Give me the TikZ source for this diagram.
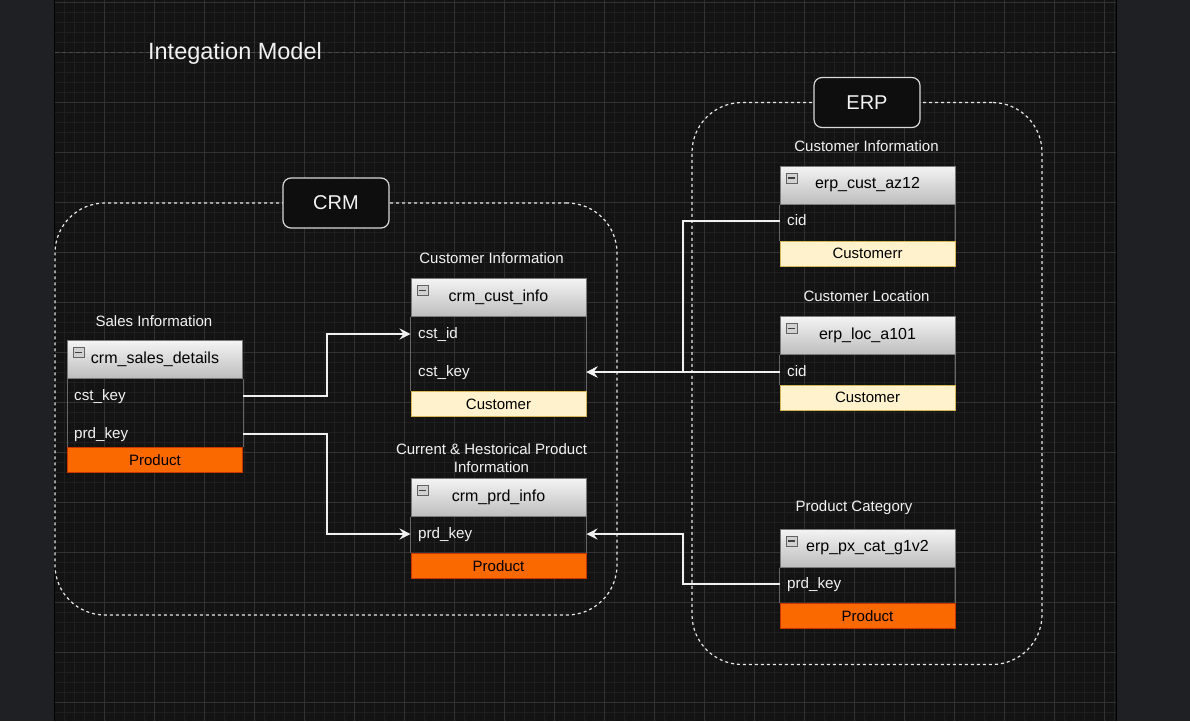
\documentclass[tikz,border=0pt]{standalone}
\usepackage{fontspec}
\setmainfont{Liberation Sans}
\usetikzlibrary{arrows.meta}

\definecolor{panel}{HTML}{1F2023}
\definecolor{canvas}{HTML}{131313}
\definecolor{gridminor}{HTML}{1F1F1F}
\definecolor{gridmajor}{HTML}{323232}
\definecolor{divider}{HTML}{4A4A4A}
\definecolor{groupline}{HTML}{E8E8E8}
\definecolor{labelfill}{HTML}{0E0E0E}
\definecolor{labelline}{HTML}{D8D8D8}
\definecolor{headtop}{HTML}{F4F4F4}
\definecolor{headbot}{HTML}{BDBDBD}
\definecolor{headline}{HTML}{7A7A7A}
\definecolor{bodyline}{HTML}{666666}
\definecolor{prodfill}{HTML}{FA6800}
\definecolor{prodline}{HTML}{C73500}
\definecolor{custfill}{HTML}{FFF2CC}
\definecolor{custline}{HTML}{D6B656}
\definecolor{ink}{HTML}{F2F2F2}

\newcommand\fsz[2]{\fontsize{#1}{#2}\selectfont}

% header of an entity table, with its collapse icon
\newcommand\tablehead[4]{%
  \node[tblhead, anchor=north west] (#1) at (#2,#3) {#4};
  \node[minusbox, anchor=north west] (#1-icon) at ([xshift=6pt,yshift=-7pt]#1.north west) {};
}
% side borders of a table body, between header and bottom band
\newcommand\tablebody[1]{%
  \draw[tblbody] (#1.south west) -- (#1-band.north west)
                 (#1.south east) -- (#1-band.north east);
}

\begin{document}
\begin{tikzpicture}[x=1pt,y=-1pt,
  tblhead/.style={draw=headline, line width=1pt, top color=headtop, bottom color=headbot,
    minimum width=175pt, minimum height=38pt, inner sep=0pt, text=black, font=\fsz{16}{19}},
  minusbox/.style={draw=headline!80!black, fill=headbot!70!white, line width=0.8pt,
    minimum width=11pt, minimum height=10pt, inner sep=0pt,
    path picture={\draw[line width=1.3pt, black!75]
      ([xshift=2pt]path picture bounding box.west) -- ([xshift=-2pt]path picture bounding box.east);}},
  tblbody/.style={draw=bodyline, line width=1pt},
  rowtext/.style={anchor=west, inner sep=0pt, text=ink, font=\fsz{15.2}{18},
    text height=11pt, text depth=3pt},
  prodband/.style={anchor=north west, draw=prodline, fill=prodfill, line width=1pt,
    minimum width=175pt, minimum height=25pt, inner sep=0pt, text=black, font=\fsz{15}{18}},
  custband/.style={anchor=north west, draw=custline, fill=custfill, line width=1pt,
    minimum width=175pt, minimum height=25pt, inner sep=0pt, text=black, font=\fsz{15}{18}},
  caption/.style={inner sep=0pt, text=ink, font=\fsz{15}{18}, align=center},
  groupbox/.style={draw=groupline, line width=1.2pt, dash pattern=on 3pt off 3pt,
    rounded corners=50pt, inner sep=0pt},
  grouplabel/.style={draw=labelline, fill=labelfill, line width=1.2pt, rounded corners=8pt,
    minimum width=106pt, minimum height=50pt, inner sep=0pt, text=ink, font=\fsz{20}{22}},
  conn/.style={draw=white!94!black, line width=1.3pt,
    -{Stealth[length=11pt,width=11pt,inset=4pt]}},
]
\useasboundingbox (0,0) rectangle (1190,721);

% side panels and canvas
\fill[panel] (0,0) rectangle (1190,721);
\fill[canvas] (54.5,0) rectangle (1116.5,721);

% canvas grid
\begin{scope}
  \clip (54.5,0) rectangle (1116.5,721);
  \foreach \gx in {64,74,...,1114} \draw[gridminor, line width=1pt] (\gx,0) -- (\gx,721);
  \foreach \gy in {2,12,...,712} \draw[gridminor, line width=1pt] (54.5,\gy) -- (1116.5,\gy);
  \foreach \gx in {104,154,...,1104} \draw[gridmajor, line width=1pt] (\gx,0) -- (\gx,721);
  \foreach \gy in {2,52,...,702} \draw[gridmajor, line width=1pt] (54.5,\gy) -- (1116.5,\gy);
\end{scope}
\draw[black, line width=1pt] (54.5,0) -- (54.5,721) (1116.5,0) -- (1116.5,721);

% page divider and title
\draw[divider, line width=1.3pt, dash pattern=on 4pt off 3pt] (55,52.5) -- (1116,52.5);
\node[inner sep=0pt, text=ink, font=\fsz{23.5}{28}] (title) at (235,53) {Integation Model};

% groups
\node[groupbox, minimum width=562pt, minimum height=412pt] (crm) at (336,409) {};
\node[groupbox, minimum width=350pt, minimum height=562pt] (erp) at (867,383.5) {};
\node[grouplabel] (crm-label) at (336,203) {CRM};
\node[grouplabel] (erp-label) at (867,102.5) {ERP};

% CRM: sales details
\node[caption] (sd-cap) at (154,321) {Sales Information};
\tablehead{sd}{67}{340}{crm\_sales\_details}
\node[rowtext] (sd-cst) at (74,396) {cst\_key};
\node[rowtext] (sd-prd) at (74,434) {prd\_key};
\node[prodband] (sd-band) at (67,447) {Product};
\tablebody{sd}

% CRM: customer info
\node[caption] (ci-cap) at (491.5,258) {Customer Information};
\tablehead{ci}{410.5}{278}{crm\_cust\_info}
\node[rowtext] (ci-id) at (418,334) {cst\_id};
\node[rowtext] (ci-key) at (418,372) {cst\_key};
\node[custband] (ci-band) at (410.5,391) {Customer};
\tablebody{ci}

% CRM: product info
\node[caption] (cp-cap) at (491.5,458) {Current \& Hestorical Product\\Information};
\tablehead{cp}{410.5}{478}{crm\_prd\_info}
\node[rowtext] (cp-prd) at (418,534) {prd\_key};
\node[prodband] (cp-band) at (410.5,553) {Product};
\tablebody{cp}

% ERP: customer
\node[caption] (ea-cap) at (866.5,146) {Customer Information};
\tablehead{ea}{779.5}{165.5}{erp\_cust\_az12}
\node[rowtext] (ea-cid) at (787,221) {cid};
\node[custband] (ea-band) at (779.5,240.5) {Customerr};
\tablebody{ea}

% ERP: location
\node[caption] (el-cap) at (866.5,296) {Customer Location};
\tablehead{el}{779.5}{316}{erp\_loc\_a101}
\node[rowtext] (el-cid) at (787,372) {cid};
\node[custband] (el-band) at (779.5,384.5) {Customer};
\tablebody{el}

% ERP: product category
\node[caption] (ep-cap) at (854,508) {Product Category};
\tablehead{ep}{779.5}{528.5}{erp\_px\_cat\_g1v2}
\node[rowtext] (ep-prd) at (787,584) {prd\_key};
\node[prodband] (ep-band) at (779.5,603) {Product};
\tablebody{ep}

% elbow columns of the connectors
\coordinate (bend-crm) at (327,0);
\coordinate (bend-erp) at (683,0);

% relationships
\draw[conn] (sd-cst -| sd.east) -- (sd-cst -| bend-crm) |- (ci-id -| ci.west);
\draw[conn] (sd-prd -| sd.east) -- (sd-prd -| bend-crm) |- (cp-prd -| cp.west);
\draw[conn] (ea-cid -| ea.west) -- (ea-cid -| bend-erp) |- (ci-key -| ci.east);
\draw[conn] (el-cid -| el.west) -- (ci-key -| ci.east);
\draw[conn] (ep-prd -| ep.west) -- (ep-prd -| bend-erp) |- (cp-prd -| cp.east);
\end{tikzpicture}
\end{document}
